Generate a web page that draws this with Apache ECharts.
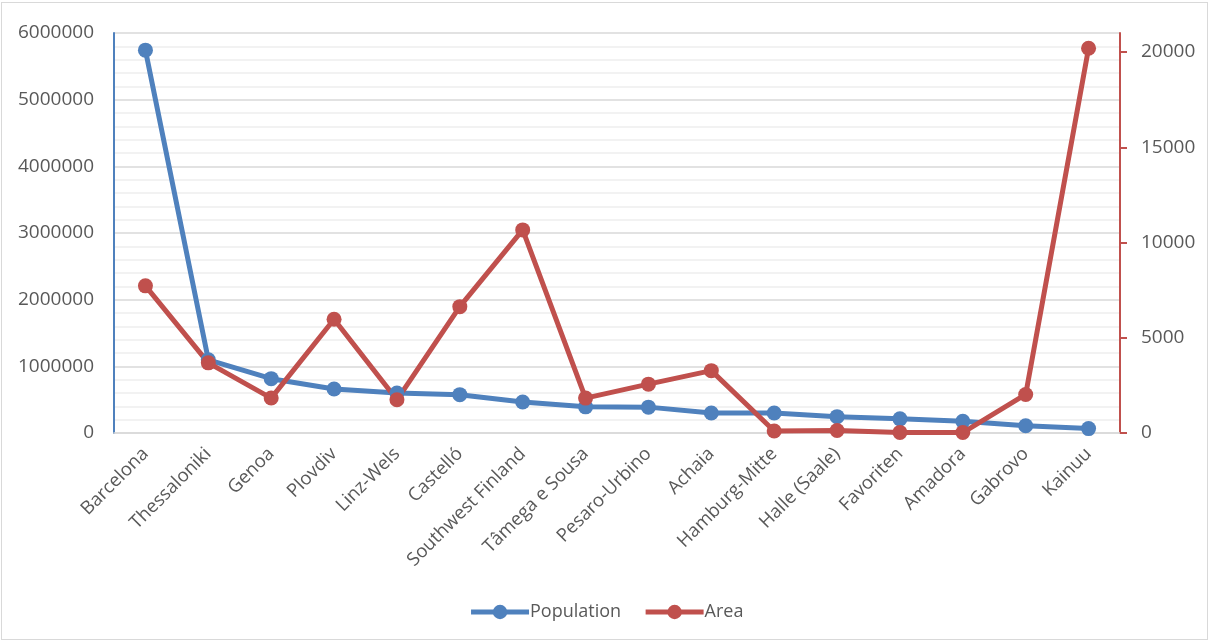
<!DOCTYPE html>
<html>
<head>
<meta charset="utf-8">
<script src="https://cdn.jsdelivr.net/npm/echarts@6/dist/echarts.min.js"></script>
<style>
  html, body { margin: 0; padding: 0; background: #fff; }
  #frame { position: absolute; left: 1px; top: 2px; width: 1207px; height: 638px; border: 1px solid #d9d9d9; box-sizing: border-box; }
  #chart { position: absolute; left: 0; top: 0; width: 1212px; height: 644px; }
</style>
</head>
<body>
<div id="frame"></div>
<div id="chart"></div>
<script>
// Regions, their population and area (km²)
const regions = ['Barcelona', 'Thessaloniki', 'Genoa', 'Plovdiv', 'Linz-Wels', 'Castelló',
  'Southwest Finland', 'Tâmega e Sousa', 'Pesaro-Urbino', 'Achaia', 'Hamburg-Mitte',
  'Halle (Saale)', 'Favoriten', 'Amadora', 'Gabrovo', 'Kainuu'];
const population = [5743000, 1097000, 815000, 660000, 600000, 575000, 466000, 392000,
  388000, 300000, 300000, 245000, 212000, 175000, 108000, 66000];
const area = [7726, 3683, 1834, 5973, 1744, 6632, 10663, 1831, 2564, 3272, 107, 135, 32, 24, 2023, 20197];
const areaTicks = [0, 5000, 10000, 15000, 20000];

const FONT = 'Open Sans';
const TEXT = '#595959';
const BLUE = '#4f81bd';
const RED = '#c0504d';
const plain = v => String(v);

const chart = echarts.init(document.getElementById('chart'), null, { renderer: 'canvas' });
chart.setOption({
  animation: false,
  textStyle: { fontFamily: FONT, color: TEXT },
  grid: { left: 114, right: 92, top: 33, bottom: 211, containLabel: false },
  legend: {
    bottom: 18,
    left: 'center',
    itemWidth: 58,
    itemHeight: 18,
    itemGap: 22,
    lineStyle: { width: 5 },
    textStyle: { fontFamily: FONT, fontSize: 18, color: TEXT, padding: [0, 0, 0, -4] },
    data: ['Population', 'Area']
  },
  xAxis: {
    type: 'category',
    data: regions,
    boundaryGap: true,
    axisLine: { show: true, lineStyle: { color: '#d9d9d9', width: 1.5 } },
    axisTick: { show: false },
    axisLabel: { rotate: 45, interval: 0, margin: 18, fontSize: 18.5, color: TEXT, fontFamily: FONT }
  },
  yAxis: [
    {
      type: 'value',
      min: 0,
      max: 6000000,
      interval: 1000000,
      axisLine: { show: true, lineStyle: { color: BLUE, width: 2 } },
      axisTick: { show: false },
      axisLabel: { fontSize: 19, color: TEXT, fontFamily: FONT, margin: 20, formatter: plain },
      splitLine: { show: true, lineStyle: { color: '#d9d9d9', width: 1.5 } },
      minorTick: { show: false, splitNumber: 5 },
      minorSplitLine: { show: true, lineStyle: { color: '#eeeeee', width: 1.5 } }
    },
    {
      type: 'value',
      min: 0,
      max: 21000,
      interval: 5000,
      position: 'right',
      axisLine: { show: true, lineStyle: { color: RED, width: 2 } },
      axisTick: { show: true, inside: false, length: 7, customValues: areaTicks, lineStyle: { color: RED, width: 2 } },
      axisLabel: { fontSize: 19, color: TEXT, fontFamily: FONT, margin: 21, customValues: areaTicks, formatter: plain },
      splitLine: { show: false }
    }
  ],
  series: [
    {
      name: 'Population',
      type: 'line',
      yAxisIndex: 0,
      data: population,
      symbol: 'circle',
      symbolSize: 15,
      itemStyle: { color: BLUE },
      lineStyle: { color: BLUE, width: 5 }
    },
    {
      name: 'Area',
      type: 'line',
      yAxisIndex: 1,
      data: area,
      symbol: 'circle',
      symbolSize: 15,
      itemStyle: { color: RED },
      lineStyle: { color: RED, width: 5 }
    }
  ]
});
</script>
</body>
</html>
